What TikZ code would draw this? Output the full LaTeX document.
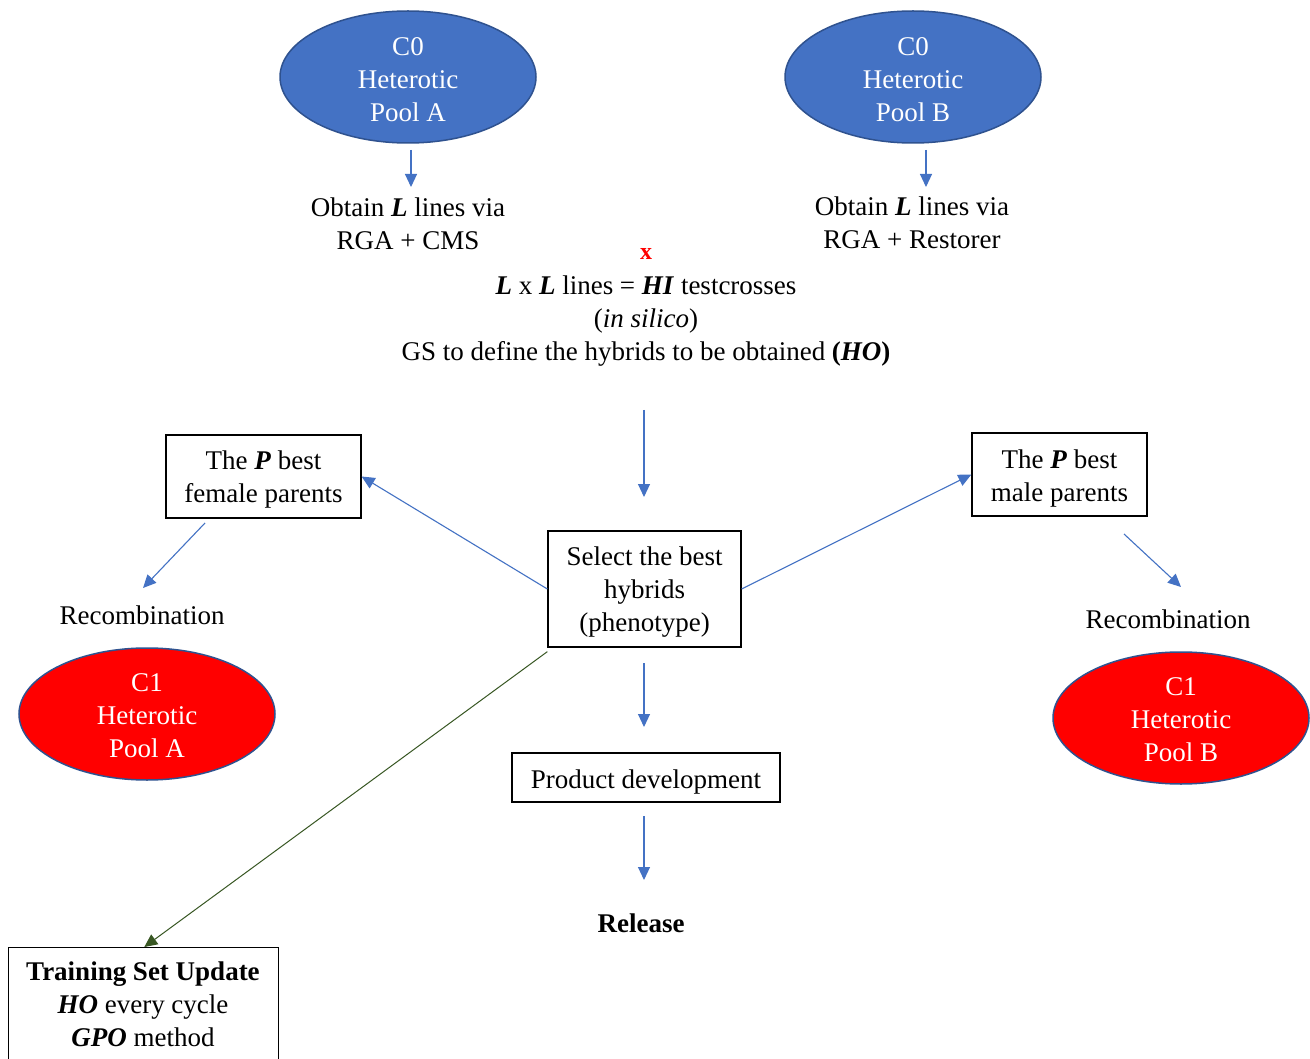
\documentclass[tikz,border=0pt]{standalone}
\usepackage{fontspec}
\setmainfont{Liberation Serif}
\usetikzlibrary{shapes.geometric,arrows.meta}
\definecolor{bl}{HTML}{4472C4}
\definecolor{bd}{HTML}{2F528F}
\definecolor{gr}{HTML}{385723}
\newcommand{\bi}[1]{\textbf{\textit{#1}}}
\begin{document}
\begin{tikzpicture}[x=1pt,y=-1pt,
  every node/.style={font=\fontsize{27}{33}\selectfont, align=center, inner sep=0pt},
  pool/.style={ellipse, draw=bd, line width=1.5pt, minimum width=256pt, minimum height=132pt},
  poolA/.style={pool, fill=bl},
  poolC/.style={pool, fill=red},
  wtxt/.style={text=white},
  rbox/.style={draw=black, line width=1.3pt, inner sep=0pt},
  arr/.style={draw=bl, line width=1.1pt, -{Triangle[length=13pt,width=12pt]}},
  garr/.style={draw=gr, line width=1pt, -{Triangle[length=13pt,width=12pt]}}]
\useasboundingbox (0,0) rectangle (1310,1059);
\fill[white] (0,0) rectangle (1310,1059);
% C0 pools
\node[poolA] (p0a) at (408,77) {};
\node[wtxt] (p0at) at (408,79.5) {C0\\Heterotic\\Pool A};
\node[poolA] (p0b) at (913,77) {};
\node[wtxt] (p0bt) at (913,79.5) {C0\\Heterotic\\Pool B};
\node (obta) at (408,223.5) {Obtain \bi{L} lines via\\RGA + CMS};
\node (obtb) at (912,223) {Obtain \bi{L} lines via\\RGA + Restorer};
\coordinate (a1s) at (411,150); \coordinate (a1e) at (411,187);
\coordinate (a2s) at (926,150); \coordinate (a2e) at (926,187);
\draw[arr] (a1s) -- (a1e);
\draw[arr] (a2s) -- (a2e);
\node[text=red, font=\bfseries\fontsize{24}{28}\selectfont] (xx) at (646,254) {x};
\node (mid) at (646,321) {\bi{L} x \bi{L} lines = \bi{HI} testcrosses\\(\textit{in silico})\\GS to define the hybrids to be obtained \textbf{(\textit{HO})}};
\coordinate (m1s) at (644,410); \coordinate (m1e) at (644,497);
\draw[arr] (m1s) -- (m1e);
% boxes
\node[rbox, minimum width=195pt, minimum height=83pt] (fem) at (263.5,476.5) {};
\node (femt) at (263.5,479.5) {The \bi{P} best\\female parents};
\node[rbox, minimum width=175pt, minimum height=83pt] (mal) at (1059.5,474.5) {};
\node (malt) at (1059.5,478.5) {The \bi{P} best\\male parents};
\node[rbox, minimum width=193pt, minimum height=116pt] (sel) at (644.5,589) {};
\node (selt) at (644.5,592) {Select the best\\hybrids\\(phenotype)};
\draw[arr] (sel.west) -- (fem.east);
\draw[arr] (sel.east) -- (mal.west);
% recombination
\node (reca) at (142,615) {Recombination};
\node (recb) at (1168,619) {Recombination};
\coordinate (f1s) at (205,523); \coordinate (f1e) at (143,588);
\coordinate (g1s) at (1124,534); \coordinate (g1e) at (1181,587);
\draw[arr] (f1s) -- (f1e);
\draw[arr] (g1s) -- (g1e);
\node[poolC] (p1a) at (147,714) {};
\node[wtxt] (p1at) at (147,716) {C1\\Heterotic\\Pool A};
\node[poolC] (p1b) at (1181,718) {};
\node[wtxt] (p1bt) at (1181,720) {C1\\Heterotic\\Pool B};
% product
\coordinate (s1s) at (644,663); \coordinate (s1e) at (644,727);
\draw[arr] (s1s) -- (s1e);
\node[rbox, minimum width=268pt, minimum height=49pt] (prod) at (646,777.5) {};
\node (prodt) at (646,782) {Product development};
\coordinate (r1s) at (644,816); \coordinate (r1e) at (644,880);
\draw[arr] (r1s) -- (r1e);
\node[font=\bfseries\fontsize{27}{33}\selectfont] (rel) at (641,923) {Release};
% training
\node[rbox, minimum width=270pt, minimum height=140pt, anchor=north west] (train) at (8,947) {};
\node (traintxt) at (143,1004.5) {\textbf{Training Set Update}\\\bi{HO} every cycle\\\bi{GPO} method};
\draw[garr] ([yshift=-4pt]sel.south west) -- ([xshift=-135pt]train.north east);
\end{tikzpicture}
\end{document}
